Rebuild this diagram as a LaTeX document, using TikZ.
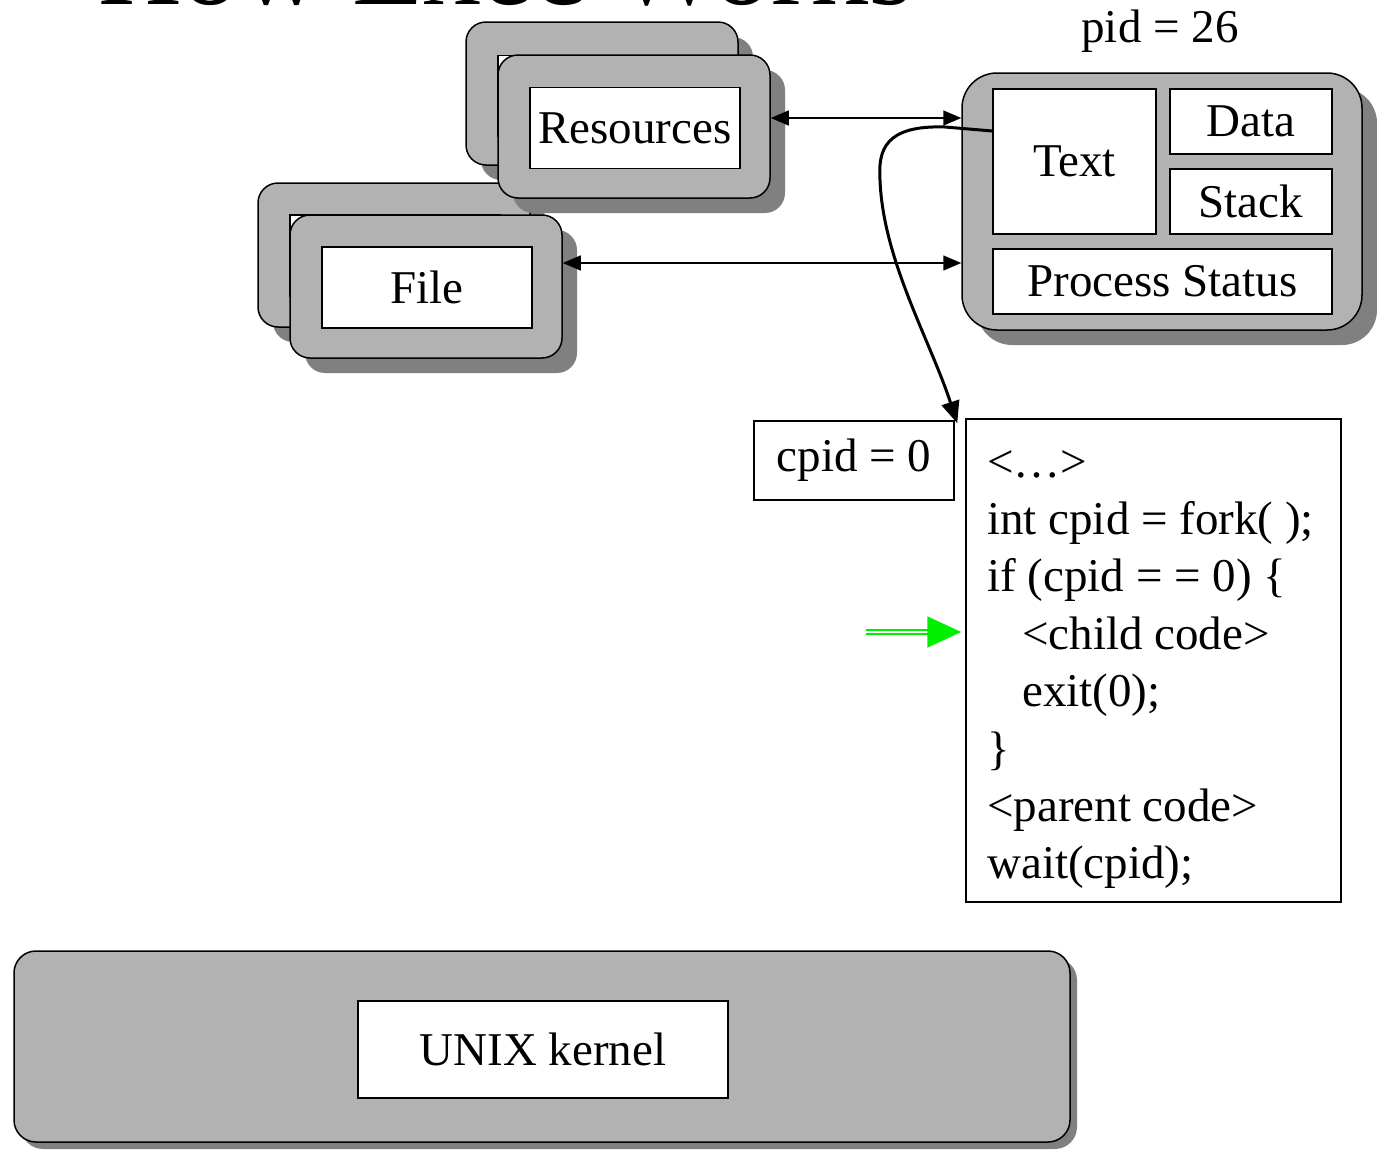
\documentclass[tikz,border=0pt]{standalone}
\usepackage{fontspec}
\setmainfont{Liberation Serif}
\usetikzlibrary{arrows.meta,shadows}
\definecolor{boxgray}{RGB}{178,178,178}
\definecolor{shadowgray}{RGB}{128,128,128}
\definecolor{ptrgreen}{RGB}{0,240,0}
\newcommand{\slidefont}{\fontsize{47}{57}\selectfont}
\tikzset{
  panelshadow/.style={drop shadow={shadow xshift=#1, shadow yshift=-#1, fill=shadowgray, opacity=1}},
  panel/.style={panelshadow=#1, draw, line width=1.5pt, fill=boxgray, rounded corners=20pt},
  panel/.default=15pt,
  field/.style={draw, line width=1.5pt, fill=white, inner sep=0pt, font=\slidefont},
  dims/.style 2 args={minimum width=#1pt, minimum height=#2pt},
  codeline/.style={anchor=base west, inner sep=0pt, font=\slidefont},
  link/.style={line width=1.5pt, {Triangle[length=18pt,width=15pt]}-{Triangle[length=18pt,width=15pt]}},
  forkarrow/.style={line width=3pt, -{Triangle[length=22pt,width=18pt]}},
  pcarrow/.style={draw=ptrgreen, double=white, double distance=1.8pt, line width=1.8pt, -{Triangle[length=34pt,width=31pt]}}
}
\begin{document}
\begin{tikzpicture}[x=1pt,y=-1pt]
\useasboundingbox (0,0) rectangle (1377,1152);
% title, cut off by the page edge
\node[anchor=base west, inner sep=0pt, font=\fontsize{116}{120}\selectfont] (title) at (98,4) {How Exec Works};

% file table (two copies)
\node[panel, dims={272}{144}] (fileB) at (394,255) {};
\node[field, dims={210}{81}] (fileBi) at (395,255.5) {};
\node[panel, dims={272}{143}] (fileF) at (426,286.5) {};
\node[field, dims={210}{81}] (fileFi) at (427,287.5) {File};

% resources (two copies)
\node[panel, dims={272}{143}] (resB) at (602,93.5) {};
\node[field, dims={210}{81}] (resBi) at (603,96) {};
\node[panel, dims={272}{143}] (resF) at (634,126.5) {};
\node[field, dims={210}{81}] (resFi) at (635,128) {Resources};

% the process
\node[anchor=base, inner sep=0pt, font=\slidefont] (pid) at (1160,42) {pid = 26};
\node[panel, rounded corners=35pt, dims={400}{257}] (proc) at (1162,201.5) {};
\node[field, dims={163}{145}] (txt) at (1074.5,161.5) {Text};
\node[field, dims={162}{65}] (data) at (1251,121.5) {Data};
\node[field, dims={162}{65}] (stack) at (1251,201.5) {Stack};
\node[field, dims={339}{65}] (pstat) at (1162.5,281.5) {Process Status};

\coordinate (resarr) at ([yshift=8.5pt]resF.east);
\coordinate (filearr) at ([yshift=23.5pt]fileF.east);
\draw[link] (resarr) -- (resarr -| proc.west);
\draw[link] (filearr) -- (filearr -| proc.west);

% code of the program
\node[field, dims={200}{79}] (cpid) at (854,460.5) {cpid = 0};
\node[field, dims={375}{483}] (code) at (1153.5,660.5) {};
\node[codeline] (ln1) at (987,477) {<…>};
\node[codeline] (ln2) at (987,534) {int cpid = fork( );};
\node[codeline] (ln3) at (987,591) {if (cpid = = 0) \{};
\node[codeline] (ln4) at (1022,649) {<child code>};
\node[codeline] (ln5) at (1022,706) {exit(0);};
\node[codeline] (ln6) at (987,764) {\}};
\node[codeline] (ln7) at (987,821) {<parent code>};
\node[codeline] (ln8) at (987,878) {wait(cpid);};

\draw[forkarrow] ([yshift=30.5pt]txt.west) -- (945,127) .. controls (885,125) and (878,150) .. (880,180)
   .. controls (883,260) and (930,340) .. ([xshift=-8pt,yshift=-5pt]code.north west);

\coordinate (gtail) at (866,632);
\draw[pcarrow, shorten >=4pt] (gtail) -- (gtail -| code.west);

% kernel
\node[panel=7pt, rounded corners=22pt, dims={1056}{191}] (kernel) at (542,1046.5) {};
\node[field, dims={370}{97}] (kern) at (543,1049.5) {UNIX kernel};
\end{tikzpicture}
\end{document}
